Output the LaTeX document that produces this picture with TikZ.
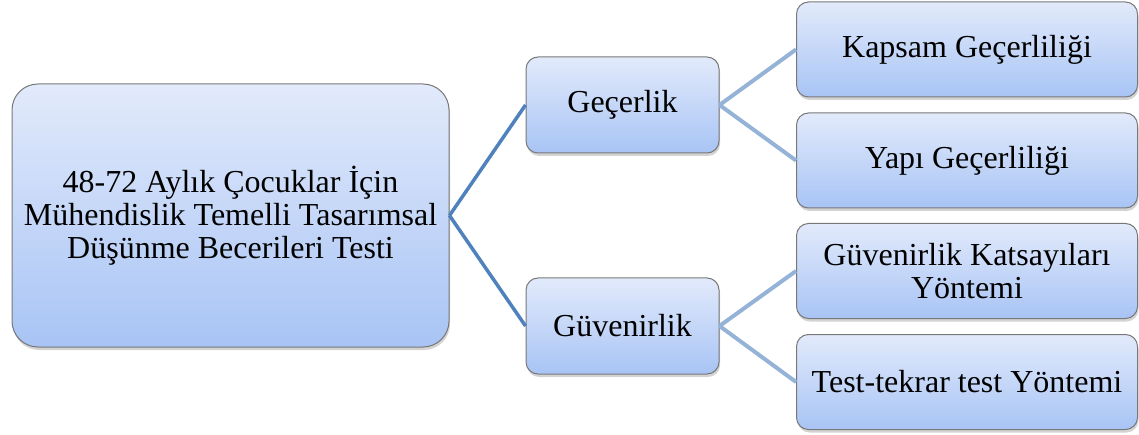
\documentclass[tikz,border=0pt]{standalone}
\usepackage{fontspec}
\setmainfont{LiberationSerif}[Extension=.ttf,UprightFont=*-Regular,BoldFont=*-Bold]
\usetikzlibrary{shadows}
\definecolor{boxtop}{RGB}{226,234,251}
\definecolor{boxbottom}{RGB}{168,196,245}
\definecolor{boxline}{RGB}{120,120,120}
\definecolor{darklink}{RGB}{79,129,189}
\definecolor{lightlink}{RGB}{149,179,215}

\begin{document}
\begin{tikzpicture}[x=1pt,y=-1pt,
box/.style={rectangle,rounded corners=12pt,draw=boxline,line width=1pt,
top color=boxtop,bottom color=boxbottom,align=center,
font=\rmfamily\fontsize{32}{33}\selectfont,
drop shadow={shadow xshift=1pt,shadow yshift=-3pt,opacity=0.35}},
rootlink/.style={darklink,line width=3.5pt},
leaflink/.style={lightlink,line width=4pt}]
\useasboundingbox (0,0) rectangle (1139,435);
% the test itself
\node [box,rounded corners=26pt,minimum width=437pt,minimum height=263pt]
(test) at (230.5,215.5)
{48-72 Aylık Çocuklar İçin\\Mühendislik Temelli Tasarımsal\\Düşünme Becerileri Testi};
% the two branches
\node [box,minimum width=193pt,minimum height=96pt] (gecerlik) at (622.5,105) {Geçerlik};
\node [box,minimum width=193pt,minimum height=96pt] (guvenirlik) at (622.5,326) {Güvenirlik};
% the leaves
\foreach \leaf/\y/\txt in {kapsam/49.5/Kapsam Geçerliliği,
yapi/160.5/Yapı Geçerliliği,
katsayi/271/{Güvenirlik Katsayıları\\Yöntemi},
tekrar/382/Test-tekrar test Yöntemi}
{
\node [box,minimum width=341pt,minimum height=95pt] (\leaf) at (967,\y) {\txt};
}
\draw [rootlink] (test.east) -- (gecerlik.west);
\draw [rootlink] (test.east) -- (guvenirlik.west);
\draw [leaflink] (gecerlik.east) -- (kapsam.west);
\draw [leaflink] (gecerlik.east) -- (yapi.west);
\draw [leaflink] (guvenirlik.east) -- (katsayi.west);
\draw [leaflink] (guvenirlik.east) -- (tekrar.west);
\end{tikzpicture}
\end{document}
